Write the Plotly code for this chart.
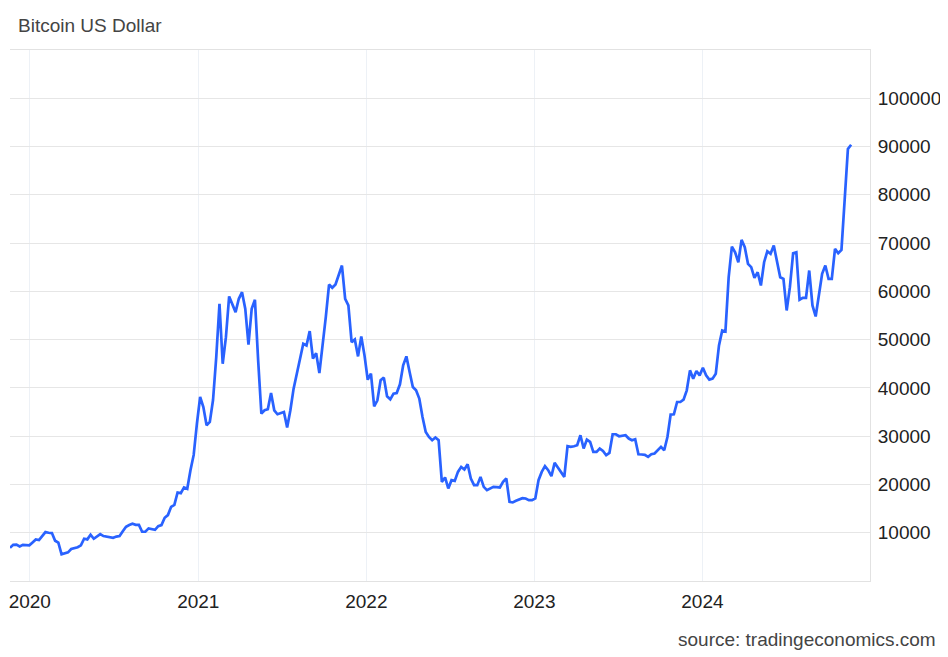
import pandas as pd
import plotly.graph_objects as go

# weekly Bitcoin price in USD
price_2019 = [6900, 7500, 7550, 7150, 7500, 7450, 7400]
price_2020 = [8000, 8600, 8480, 9300, 10130, 10000, 9930, 8340, 7930, 5520,
              5790, 5930, 6620, 6800, 7000, 7380, 8750, 8620, 9580, 8750,
              9300, 9720, 9310, 9200, 9100, 8960, 9200, 9310, 10300, 11230,
              11600, 11850, 11640, 11640, 10200, 10200, 10890, 10750, 10610, 11370,
              11580, 13090, 13650, 15370, 15780, 18340, 18200, 19380, 19100, 22950,
              26120, 32610]
price_2021 = [38120, 36050, 32260, 32950, 37500, 46390, 57430, 45010, 50520, 58940,
              57430, 55700, 58460, 59840, 56400, 48950, 56400, 58260, 45700, 34680,
              35360, 35570, 38940, 35360, 34540, 34800, 35010, 31780, 35360, 39850,
              42800, 46200, 49160, 48800, 51760, 46050, 47210, 43070, 48450, 54700,
              61420, 60740, 61420, 63200, 65350, 58460, 57080, 49490, 50050, 46530,
              50670, 46740]
price_2022 = [41700, 42950, 36190, 37430, 41570, 42130, 38260, 37640, 38820, 38940,
              40740, 44670, 46530, 43280, 40190, 39500, 37780, 33980, 30880, 29840,
              29160, 29720, 29160, 20540, 21450, 19170, 20890, 20740, 22600, 23640,
              23100, 24190, 21240, 19850, 19850, 21570, 19500, 18820, 19170, 19500,
              19450, 19380, 20540, 21240, 16400, 16270, 16610, 16900, 17160, 17100,
              16750, 16750]
price_2023 = [17100, 20890, 22600, 23780, 22950, 21710, 24470, 23510, 22400, 21570,
              27920, 27780, 27920, 28130, 30190, 27440, 29300, 28810, 26740, 26740,
              27440, 26950, 26060, 26530, 30400, 30400, 29990, 30100, 30190, 29510,
              29160, 29370, 26260, 26200, 26120, 25710, 26260, 26400, 27090, 27780,
              27090, 29840, 34470, 34540, 37080, 37080, 37570, 39500, 43640, 41920,
              43490, 42600]
price_2024 = [44190, 42600, 41710, 41920, 42950, 48800, 51900, 51700, 62900, 69280,
              68100, 66040, 70670, 69140, 65700, 65010, 62810, 63970, 61220, 66040,
              68310, 67780, 69490, 66380, 62930, 62590, 56040, 60860, 67900, 68100,
              58260, 58670, 58670, 64320, 57080, 54800, 58940, 63630, 65350, 62590,
              62590, 68800, 67900, 68590, 79000, 89480, 90370]

prices = price_2019 + price_2020 + price_2021 + price_2022 + price_2023 + price_2024
dates = pd.date_range("2019-11-19", periods=len(prices), freq="7D")

y_ticks = [10000, 20000, 30000, 40000, 50000, 60000, 70000, 80000, 90000, 100000]
y_labels = [str(v) for v in y_ticks]

fig = go.Figure()
fig.add_trace(go.Scatter(x=dates, y=prices, mode="lines",
                         line=dict(color="#2962ff", width=2.7)))

# page body has an 8px margin, so the figure is a bit smaller than the window
fig.update_layout(
    width=940, height=649,
    margin=dict(l=2, r=78, t=42, b=76),
    plot_bgcolor="white", paper_bgcolor="white",
    showlegend=False,
    font=dict(family="Arial, Liberation Sans, sans-serif", size=19, color="#222"),
)

fig.update_xaxes(
    type="date", range=["2019-11-19", "2024-12-30"],
    tick0="2020-01-01", dtick="M12", tickformat="%Y",
    showgrid=True, gridcolor="#edf1f6", gridwidth=1,
    showline=True, linecolor="#e2e2e2", linewidth=1, mirror=True,
    ticks="", ticklabelstandoff=3, zeroline=False, automargin=False,
)
fig.update_yaxes(
    side="right", range=[0, 110000], tickvals=y_ticks, ticktext=y_labels,
    showgrid=True, gridcolor="#e6e6e6", gridwidth=1,
    showline=True, linecolor="#e2e2e2", linewidth=1,
    ticks="", ticklabelstandoff=3, zeroline=False, automargin=False,
)

fig.add_annotation(text="Bitcoin US Dollar", xref="paper", yref="paper",
                   x=0.007, y=1.047, xanchor="left", yanchor="middle",
                   showarrow=False, font=dict(size=19, color="#444"))
fig.add_annotation(text="source: tradingeconomics.com", xref="paper", yref="paper",
                   x=1.079, y=-0.111, xanchor="right", yanchor="middle",
                   showarrow=False, font=dict(size=19, color="#444"))

fig.write_html("out.html")
